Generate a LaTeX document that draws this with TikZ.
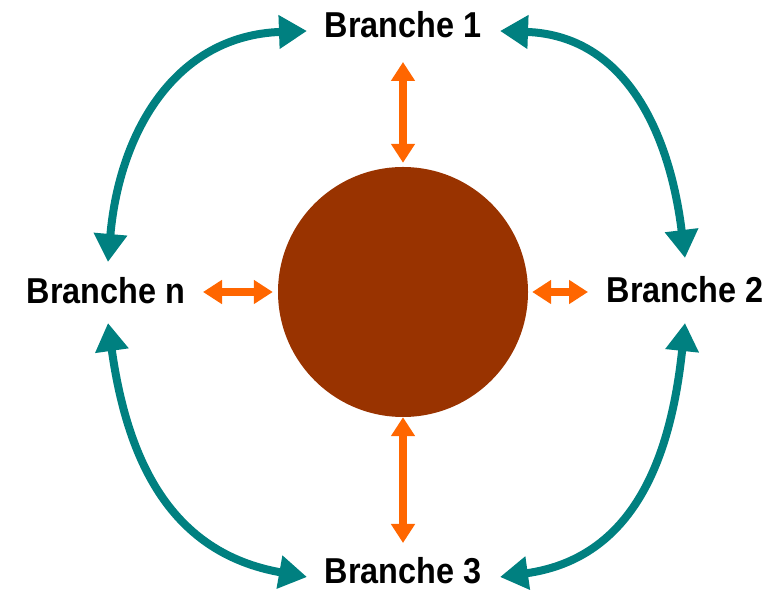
\documentclass[tikz,border=0pt]{standalone}
\usepackage{fontspec}
\setmainfont{Liberation Sans}
\newfontfamily\branchfont{Liberation Sans}[FakeStretch=0.9]
\usetikzlibrary{arrows.meta}
\definecolor{coreBrown}{HTML}{993300}
\definecolor{linkOrange}{HTML}{FF6600}
\definecolor{loopTeal}{HTML}{008080}

\begin{document}
\begin{tikzpicture}[x=1pt,y=1pt,
  branch/.style={font=\branchfont\bfseries\fontsize{36}{36}\selectfont,inner sep=0pt},
  tealarr/.style={draw=loopTeal,line width=8pt,looseness=1.1,{Triangle[length=28pt,width=32pt]}-{Triangle[length=28pt,width=32pt]}},
  orangearr/.style={draw=linkOrange,line width=7.5pt,{Triangle[length=19pt,width=23pt]}-{Triangle[length=19pt,width=23pt]}}]
\useasboundingbox (0,0) rectangle (776,591);
\node[circle,fill=coreBrown,minimum size=250pt,inner sep=0pt] (core) at (403,299) {};
\node[branch] (b1) at (403,566) {Branche 1};
\node[branch] (b2) at (685,301) {Branche 2};
\node[branch] (b3) at (403,20) {Branche 3};
\node[branch] (bn) at (106,300) {Branche n};
\coordinate (o1) at (403,529);
\coordinate (o2) at (588,299);
\coordinate (o3) at (403,48);
\coordinate (on) at (203,299);
\draw[orangearr,shorten >=4pt] (o1) -- (core.north);
\draw[orangearr,shorten >=4pt] (o2) -- (core.east);
\draw[orangearr] (o3) -- (core.south);
\draw[orangearr,shorten >=5pt] (on) -- (core.west);
\coordinate (t1l) at (307,560);
\coordinate (t1r) at (500,560);
\coordinate (t2u) at (685,333);
\coordinate (t2d) at (685,268);
\coordinate (t3r) at (500,14);
\coordinate (t3l) at (307,14);
\coordinate (tnd) at (108,268);
\coordinate (tnu) at (108,329);
\draw[tealarr] (tnu) to[out=85,in=182] (t1l);
\draw[tealarr] (t1r) to[out=-2,in=97] (t2u);
\draw[tealarr] (t2d) to[out=-96,in=8] (t3r);
\draw[tealarr] (tnd) to[out=-82,in=170] (t3l);
\end{tikzpicture}
\end{document}
